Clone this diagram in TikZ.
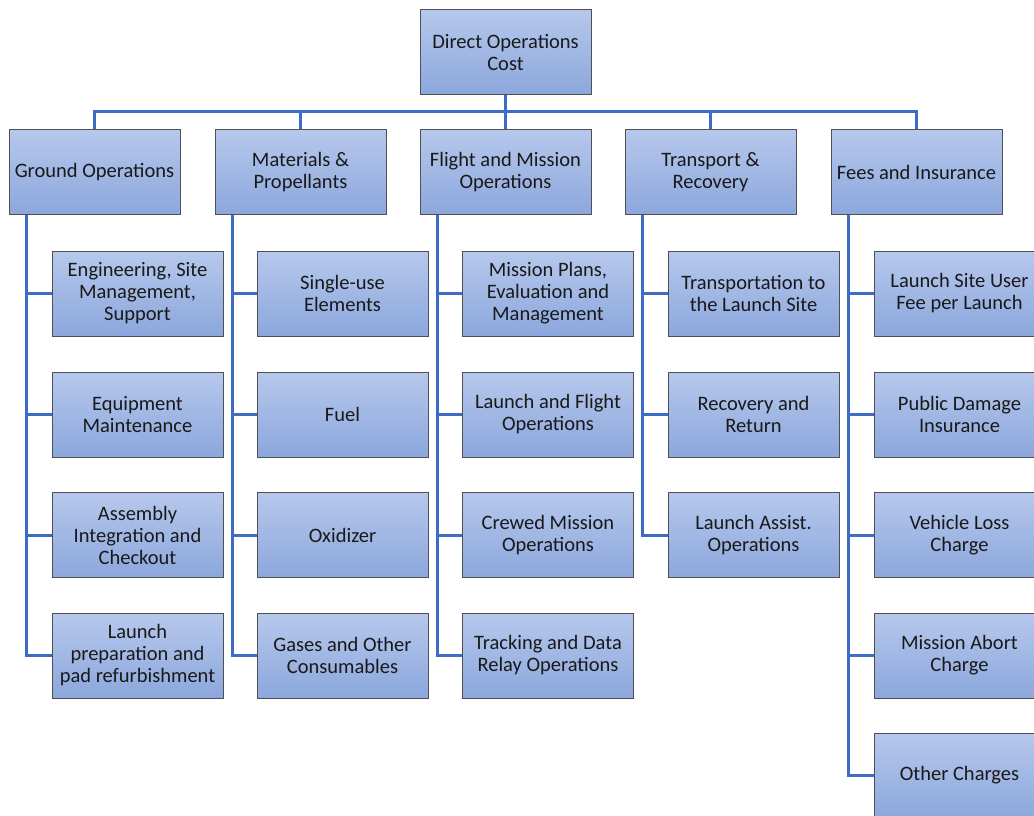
\documentclass[tikz,border=0pt]{standalone}
\usepackage{fontspec}
\setmainfont{Carlito}
\definecolor{linkblue}{RGB}{62,108,196}
\definecolor{boxtop}{RGB}{182,200,236}
\definecolor{boxbot}{RGB}{140,167,221}
\definecolor{boxedge}{RGB}{80,80,84}
\begin{document}
\begin{tikzpicture}[x=1pt,y=-1pt,
    box/.style={draw=boxedge,line width=1pt,top color=boxtop,bottom color=boxbot,
      minimum width=171pt,minimum height=85pt,align=center,text=black!90,
      font=\fontsize{20.5}{22}\selectfont,inner sep=1pt},
    link/.style={draw=linkblue,line width=3pt}]
            \useasboundingbox (0,0) rectangle (1034,815);
            \clip (0,0) rectangle (1034,815);
            \fill[white] (0,0) rectangle (1034,815);
            \coordinate (bus) at (505.5,111);
            \draw[link] (95,111) -- (918,111);
            \node[box] (doc) at (505.5,52) {Direct Operations\\Cost};
            \node[box] (go) at (94.5,172) {Ground Operations};
            \node[box] (mp) at (300.5,172) {Materials \&\\Propellants};
            \node[box] (fm) at (505.5,172) {Flight and Mission\\Operations};
            \node[box] (tr) at (710.5,172) {Transport \&\\Recovery};
            \node[box] (fi) at (916.5,172) {Fees and Insurance};
            \draw[link] (doc.south) -- (fm.north);
            \draw[link] (bus) -| (go.north);
            \draw[link] (bus) -| (mp.north);
            \draw[link] (bus) -| (tr.north);
            \draw[link] (bus) -| (fi.north);
            \node[box] (go1) at (137.5,293.5) {Engineering, Site\\Management,\\Support};
            \node[box] (go2) at (137.5,414.5) {Equipment\\Maintenance};
            \node[box] (go3) at (137.5,535) {Assembly\\Integration and\\Checkout};
            \node[box] (go4) at (137.5,655.5) {Launch\\preparation and\\pad refurbishment};
            \node[box] (mp1) at (342.5,293.5) {Single-use\\Elements};
            \node[box] (mp2) at (342.5,414.5) {Fuel};
            \node[box] (mp3) at (342.5,535) {Oxidizer};
            \node[box] (mp4) at (342.5,655.5) {Gases and Other\\Consumables};
            \node[box] (fm1) at (548,293.5) {Mission Plans,\\Evaluation and\\Management};
            \node[box] (fm2) at (548,414.5) {Launch and Flight\\Operations};
            \node[box] (fm3) at (548,535) {Crewed Mission\\Operations};
            \node[box] (fm4) at (548,655.5) {Tracking and Data\\Relay Operations};
            \node[box] (tr1) at (753.5,293.5) {Transportation to\\the Launch Site};
            \node[box] (tr2) at (753.5,414.5) {Recovery and\\Return};
            \node[box] (tr3) at (753.5,535) {Launch Assist.\\Operations};
            \node[box] (fi1) at (959.5,293.5) {Launch Site User\\Fee per Launch};
            \node[box] (fi2) at (959.5,414.5) {Public Damage\\Insurance};
            \node[box] (fi3) at (959.5,535) {Vehicle Loss\\Charge};
            \node[box] (fi4) at (959.5,655.5) {Mission Abort\\Charge};
            \node[box] (fi5) at (959.5,775.5) {Other Charges};
            \foreach \p/\c in {go/go1,go/go2,go/go3,go/go4,mp/mp1,mp/mp2,mp/mp3,mp/mp4,
                fm/fm1,fm/fm2,fm/fm3,fm/fm4,tr/tr1,tr/tr2,tr/tr3,
                fi/fi1,fi/fi2,fi/fi3,fi/fi4,fi/fi5}
              \draw[link] ([xshift=18pt]\p.south west) |- (\c.west);
\end{tikzpicture}
\end{document}
